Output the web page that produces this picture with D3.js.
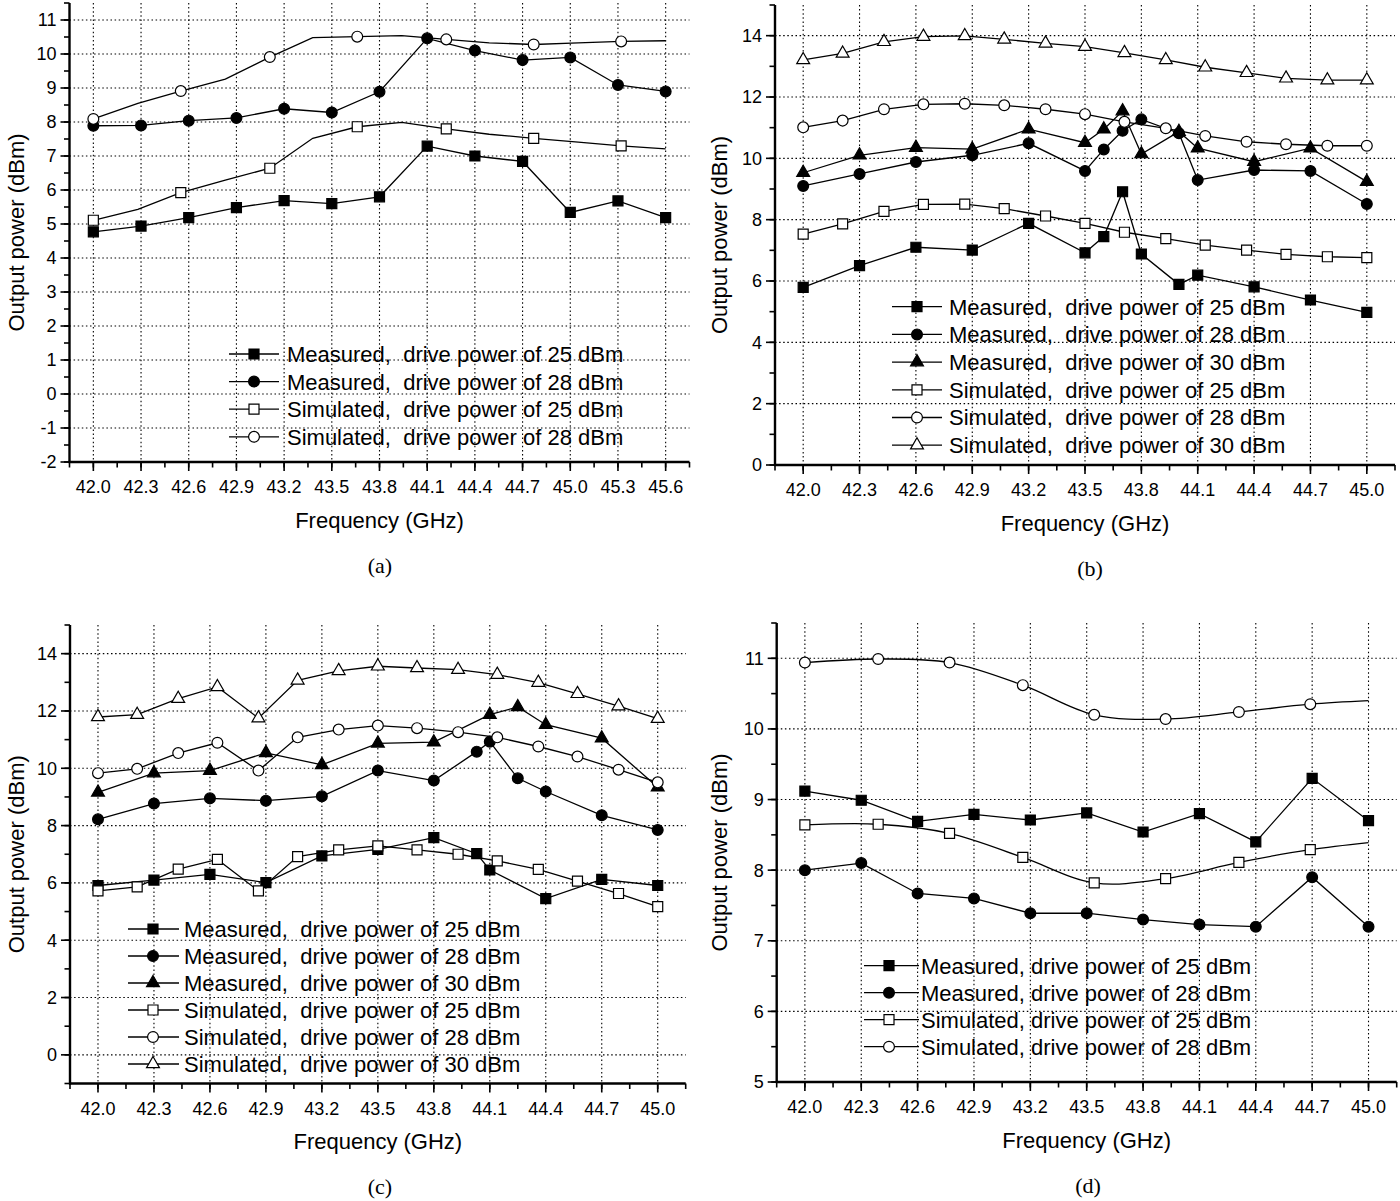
<!DOCTYPE html>
<html>
<head>
<meta charset="utf-8">
<script src="https://cdn.jsdelivr.net/npm/d3@7"></script>
<style>
  body { margin: 0; background: #fff; }
  text { font-family: "Liberation Sans", Arial, sans-serif; fill: #000; }
  .lbl { white-space: pre; }
</style>
</head>
<body>
<script>
// ---- panel (a) ----
const freqA = [42.0, 42.3, 42.6, 42.9, 43.2, 43.5, 43.8, 44.1, 44.4, 44.7, 45.0, 45.3, 45.6];
const measA25 = [4.77, 4.94, 5.19, 5.48, 5.69, 5.60, 5.80, 7.29, 7.00, 6.84, 5.34, 5.68, 5.19];
const measA28 = [7.89, 7.90, 8.04, 8.12, 8.39, 8.28, 8.89, 10.46, 10.10, 9.82, 9.90, 9.09, 8.90];
const simFreqA = [42.00, 42.28, 42.55, 42.83, 43.11, 43.38, 43.66, 43.94, 44.22, 44.49, 44.77, 45.05, 45.32, 45.60];
const simA25 = [5.11, 5.43, 5.92, 6.29, 6.64, 7.52, 7.86, 7.99, 7.80, 7.64, 7.52, 7.41, 7.30, 7.21];
const simA28 = [8.09, 8.55, 8.91, 9.26, 9.91, 10.48, 10.51, 10.54, 10.43, 10.33, 10.28, 10.33, 10.37, 10.39];
const legendA = ["Measured,  drive power of 25 dBm", "Measured,  drive power of 28 dBm",
                 "Simulated,  drive power of 25 dBm", "Simulated,  drive power of 28 dBm"];

// ---- panel (b) ----
const freqB = [42.0, 42.3, 42.6, 42.9, 43.2, 43.5, 43.6, 43.7, 43.8, 44.0, 44.1, 44.4, 44.7, 45.0];
const measB25 = [5.79, 6.50, 7.10, 7.01, 7.88, 6.92, 7.45, 8.91, 6.88, 5.89, 6.19, 5.81, 5.38, 4.98];
const measB28 = [9.10, 9.49, 9.88, 10.10, 10.49, 9.59, 10.29, 10.90, 11.27, 10.82, 9.29, 9.62, 9.59, 8.51];
const measB30 = [9.53, 10.10, 10.35, 10.30, 10.95, 10.51, 10.95, 11.54, 10.14, 10.87, 10.33, 9.89, 10.33, 9.24];
const simFreqB = [42.00, 42.21, 42.43, 42.64, 42.86, 43.07, 43.29, 43.50, 43.71, 43.93, 44.14, 44.36, 44.57, 44.79, 45.00];
const simB25 = [7.53, 7.86, 8.27, 8.50, 8.51, 8.36, 8.12, 7.88, 7.59, 7.38, 7.17, 7.01, 6.87, 6.79, 6.76];
const simB28 = [11.01, 11.23, 11.60, 11.76, 11.78, 11.73, 11.60, 11.44, 11.19, 10.98, 10.73, 10.54, 10.46, 10.41, 10.41];
const simB30 = [13.21, 13.42, 13.80, 13.97, 13.99, 13.88, 13.75, 13.64, 13.44, 13.21, 12.97, 12.79, 12.61, 12.55, 12.55];
const legendB = ["Measured,  drive power of 25 dBm", "Measured,  drive power of 28 dBm",
                 "Measured,  drive power of 30 dBm", "Simulated,  drive power of 25 dBm",
                 "Simulated,  drive power of 28 dBm", "Simulated,  drive power of 30 dBm"];

// ---- panel (c) ----
const freqC25 = [42.0, 42.3, 42.6, 42.9, 43.2, 43.5, 43.8, 44.03, 44.1, 44.4, 44.7, 45.0];
const measC25 = [5.91, 6.10, 6.30, 6.01, 6.94, 7.17, 7.58, 7.02, 6.45, 5.45, 6.12, 5.91];
const freqC28 = [42.0, 42.3, 42.6, 42.9, 43.2, 43.5, 43.8, 44.03, 44.1, 44.25, 44.4, 44.7, 45.0];
const measC28 = [8.22, 8.77, 8.95, 8.87, 9.02, 9.92, 9.57, 10.58, 10.93, 9.65, 9.19, 8.36, 7.85];
const freqC30 = [42.0, 42.3, 42.6, 42.9, 43.2, 43.5, 43.8, 44.1, 44.25, 44.4, 44.7, 45.0];
const measC30 = [9.16, 9.83, 9.92, 10.54, 10.12, 10.87, 10.91, 11.87, 12.14, 11.52, 11.05, 9.34];
const simFreqC = [42.00, 42.21, 42.43, 42.64, 42.86, 43.07, 43.29, 43.50, 43.71, 43.93, 44.14, 44.36, 44.57, 44.79, 45.00];
const simC25 = [5.72, 5.86, 6.48, 6.82, 5.72, 6.92, 7.15, 7.29, 7.15, 7.00, 6.77, 6.47, 6.06, 5.63, 5.17];
const simC28 = [9.83, 9.98, 10.53, 10.89, 9.92, 11.08, 11.35, 11.49, 11.40, 11.26, 11.08, 10.76, 10.41, 9.95, 9.51];
const simC30 = [11.79, 11.87, 12.43, 12.84, 11.75, 13.07, 13.40, 13.56, 13.50, 13.44, 13.27, 12.99, 12.60, 12.17, 11.73];
const legendC = legendB;

// ---- panel (d) ----
const freqD = [42.0, 42.3, 42.6, 42.9, 43.2, 43.5, 43.8, 44.1, 44.4, 44.7, 45.0];
const measD25 = [9.12, 8.99, 8.69, 8.79, 8.71, 8.81, 8.54, 8.80, 8.40, 9.30, 8.70];
const measD28 = [8.00, 8.10, 7.67, 7.60, 7.39, 7.39, 7.30, 7.23, 7.20, 7.90, 7.20];
const simFreqD = [42.00, 42.39, 42.77, 43.16, 43.54, 43.92, 44.31, 44.69, 45.00];
const simD25 = [8.64, 8.65, 8.52, 8.18, 7.82, 7.88, 8.11, 8.29, 8.39];
const simD28 = [10.94, 10.99, 10.94, 10.62, 10.20, 10.14, 10.24, 10.35, 10.40];
const legendD = ["Measured, drive power of 25 dBm", "Measured, drive power of 28 dBm",
                 "Simulated, drive power of 25 dBm", "Simulated, drive power of 28 dBm"];

const xMajor = [42.0, 42.3, 42.6, 42.9, 43.2, 43.5, 43.8, 44.1, 44.4, 44.7, 45.0, 45.3, 45.6];

const svg = d3.select("body").append("svg")
  .attr("width", 1400).attr("height", 1201);

const symbolType = { square: d3.symbolSquare, circle: d3.symbolCircle, triangle: d3.symbolTriangle };
const symbolSize = { square: 100, circle: 92, triangle: 72 };

function drawMarker(g, shape, filled, x, y) {
  g.append("path")
    .attr("d", d3.symbol().type(symbolType[shape]).size(symbolSize[shape])())
    .attr("transform", `translate(${x},${y})`)
    .attr("fill", filled ? "#000" : "#fff")
    .attr("stroke", "#000")
    .attr("stroke-width", 1.2);
}

function drawPanel(p) {
  const g = svg.append("g");
  const x = d3.scaleLinear().domain(p.xDomain).range([p.x0, p.x1]);
  const y = d3.scaleLinear().domain(p.yDomain).range([p.yBottom, p.yTop]);

  const xTicks = xMajor.filter(v => v <= p.xDomain[1] + 1e-6);
  const xMinor = d3.range(p.xDomain[0], p.xDomain[1] + 1e-6, 0.15);
  const yTicks = d3.range(p.yFirst, p.yDomain[1] + 1e-6, p.yStep);
  const yMinor = d3.range(p.yDomain[0], p.yDomain[1] + 1e-6, p.yStep / 2);

  // grid
  g.selectAll(".gx").data(xTicks).join("line")
    .attr("x1", d => x(d)).attr("x2", d => x(d))
    .attr("y1", p.yTop).attr("y2", p.yBottom)
    .attr("stroke", "#000").attr("stroke-width", 1.1).attr("stroke-dasharray", "1.5,2.6");
  g.selectAll(".gy").data(yTicks.filter(v => v > p.yDomain[0] + 1e-6)).join("line")
    .attr("y1", d => y(d)).attr("y2", d => y(d))
    .attr("x1", p.x0).attr("x2", p.x1)
    .attr("stroke", "#000").attr("stroke-width", 1.1).attr("stroke-dasharray", "1.5,2.6");

  // axes
  g.append("line").attr("x1", p.x0).attr("x2", p.x0).attr("y1", p.yTop).attr("y2", p.yBottom + 1)
    .attr("stroke", "#000").attr("stroke-width", 2.4);
  g.append("line").attr("x1", p.x0 - 1).attr("x2", p.x1).attr("y1", p.yBottom).attr("y2", p.yBottom)
    .attr("stroke", "#000").attr("stroke-width", 2.4);

  g.selectAll(".ymin").data(yMinor).join("line")
    .attr("x1", p.x0).attr("x2", p.x0 - 5.5).attr("y1", d => y(d)).attr("y2", d => y(d))
    .attr("stroke", "#000").attr("stroke-width", 1.6);
  g.selectAll(".ymaj").data(yTicks).join("line")
    .attr("x1", p.x0).attr("x2", p.x0 - 9).attr("y1", d => y(d)).attr("y2", d => y(d))
    .attr("stroke", "#000").attr("stroke-width", 1.6);
  g.selectAll(".xmin").data(xMinor).join("line")
    .attr("x1", d => x(d)).attr("x2", d => x(d)).attr("y1", p.yBottom).attr("y2", p.yBottom + 5.5)
    .attr("stroke", "#000").attr("stroke-width", 1.6);
  g.selectAll(".xmaj").data(xTicks).join("line")
    .attr("x1", d => x(d)).attr("x2", d => x(d)).attr("y1", p.yBottom).attr("y2", p.yBottom + 9)
    .attr("stroke", "#000").attr("stroke-width", 1.6);

  g.selectAll(".ylab").data(yTicks).join("text")
    .attr("x", p.x0 - 13).attr("y", d => y(d)).attr("dy", "0.36em")
    .attr("text-anchor", "end").attr("font-size", 18)
    .text(d => String(d));
  g.selectAll(".xlab").data(xTicks).join("text")
    .attr("x", d => x(d)).attr("y", p.yBottom + 31)
    .attr("text-anchor", "middle").attr("font-size", 18)
    .text(d => d.toFixed(1));

  g.append("text")
    .attr("transform", `translate(${p.yTitleX},${(p.yTop + p.yBottom) / 2}) rotate(-90)`)
    .attr("text-anchor", "middle").attr("dy", "0.36em").attr("font-size", 22)
    .text("Output power (dBm)");
  g.append("text")
    .attr("x", (p.x0 + p.x1) / 2).attr("y", p.yBottom + 58).attr("dy", "0.36em")
    .attr("text-anchor", "middle").attr("font-size", 22)
    .text("Frequency (GHz)");
  g.append("text")
    .attr("x", p.tagX).attr("y", p.yBottom + 103).attr("dy", "0.36em")
    .attr("text-anchor", "middle").attr("font-size", 22)
    .style("font-family", "'Liberation Serif', 'Times New Roman', serif")
    .text(p.tag);

  // series
  p.series.forEach(s => {
    const pts = s.xs.map((v, i) => [x(v), y(s.ys[i])]);
    const line = d3.line().curve(s.smooth ? d3.curveCatmullRom.alpha(0.5) : d3.curveLinear);
    g.append("path").attr("d", line(pts))
      .attr("fill", "none").attr("stroke", "#000").attr("stroke-width", 1.3);
  });
  p.series.forEach(s => {
    s.xs.forEach((v, i) => {
      if (s.marks && !s.marks.includes(i)) return;
      drawMarker(g, s.shape, s.filled, x(v), y(s.ys[i]));
    });
  });

  // legend
  p.series.forEach((s, i) => {
    const ly = p.leg.y0 + i * p.leg.step;
    g.append("line").attr("x1", p.leg.l0).attr("x2", p.leg.l1).attr("y1", ly).attr("y2", ly)
      .attr("stroke", "#000").attr("stroke-width", 1.3);
    drawMarker(g, s.shape, s.filled, p.leg.m, ly);
    g.append("text").attr("class", "lbl")
      .attr("x", p.leg.t).attr("y", ly).attr("dy", "0.36em").attr("font-size", 22)
      .text(p.labels[i]);
  });
}

const evenA = [0, 2, 4, 6, 8, 10, 12];
const firstEightD = [0, 1, 2, 3, 4, 5, 6, 7];

drawPanel({
  tag: "(a)", tagX: 380, x0: 69.5, x1: 689.5, yTop: 3, yBottom: 462,
  xDomain: [41.85, 45.75], yDomain: [-2, 11.5], yFirst: -2, yStep: 1, yTitleX: 16,
  labels: legendA,
  leg: { l0: 229, l1: 279, m: 254, t: 287, y0: 354, step: 27.6 },
  series: [
    { xs: freqA, ys: measA25, shape: "square", filled: true },
    { xs: freqA, ys: measA28, shape: "circle", filled: true },
    { xs: simFreqA, ys: simA25, shape: "square", filled: false, marks: evenA },
    { xs: simFreqA, ys: simA28, shape: "circle", filled: false, marks: evenA }
  ]
});

drawPanel({
  tag: "(b)", tagX: 1090, x0: 775, x1: 1395, yTop: 5, yBottom: 465,
  xDomain: [41.85, 45.15], yDomain: [0, 15], yFirst: 0, yStep: 2, yTitleX: 719,
  labels: legendB,
  leg: { l0: 892, l1: 942, m: 917, t: 949, y0: 306.7, step: 27.7 },
  series: [
    { xs: freqB, ys: measB25, shape: "square", filled: true },
    { xs: freqB, ys: measB28, shape: "circle", filled: true },
    { xs: freqB, ys: measB30, shape: "triangle", filled: true },
    { xs: simFreqB, ys: simB25, shape: "square", filled: false },
    { xs: simFreqB, ys: simB28, shape: "circle", filled: false },
    { xs: simFreqB, ys: simB30, shape: "triangle", filled: false }
  ]
});

drawPanel({
  tag: "(c)", tagX: 380, x0: 70, x1: 685.7, yTop: 625, yBottom: 1083.5,
  xDomain: [41.85, 45.15], yDomain: [-1, 15], yFirst: 0, yStep: 2, yTitleX: 16,
  labels: legendC,
  leg: { l0: 128, l1: 179, m: 153, t: 184, y0: 929, step: 27 },
  series: [
    { xs: freqC25, ys: measC25, shape: "square", filled: true },
    { xs: freqC28, ys: measC28, shape: "circle", filled: true },
    { xs: freqC30, ys: measC30, shape: "triangle", filled: true },
    { xs: simFreqC, ys: simC25, shape: "square", filled: false },
    { xs: simFreqC, ys: simC28, shape: "circle", filled: false },
    { xs: simFreqC, ys: simC30, shape: "triangle", filled: false }
  ]
});

drawPanel({
  tag: "(d)", tagX: 1088, x0: 776.7, x1: 1396.7, yTop: 623, yBottom: 1082,
  xDomain: [41.85, 45.15], yDomain: [5, 11.5], yFirst: 5, yStep: 1, yTitleX: 719,
  labels: legendD,
  leg: { l0: 864, l1: 919, m: 889, t: 921, y0: 965.7, step: 27 },
  series: [
    { xs: freqD, ys: measD25, shape: "square", filled: true },
    { xs: freqD, ys: measD28, shape: "circle", filled: true },
    { xs: simFreqD, ys: simD25, shape: "square", filled: false, smooth: true, marks: firstEightD },
    { xs: simFreqD, ys: simD28, shape: "circle", filled: false, smooth: true, marks: firstEightD }
  ]
});
</script>
</body>
</html>
